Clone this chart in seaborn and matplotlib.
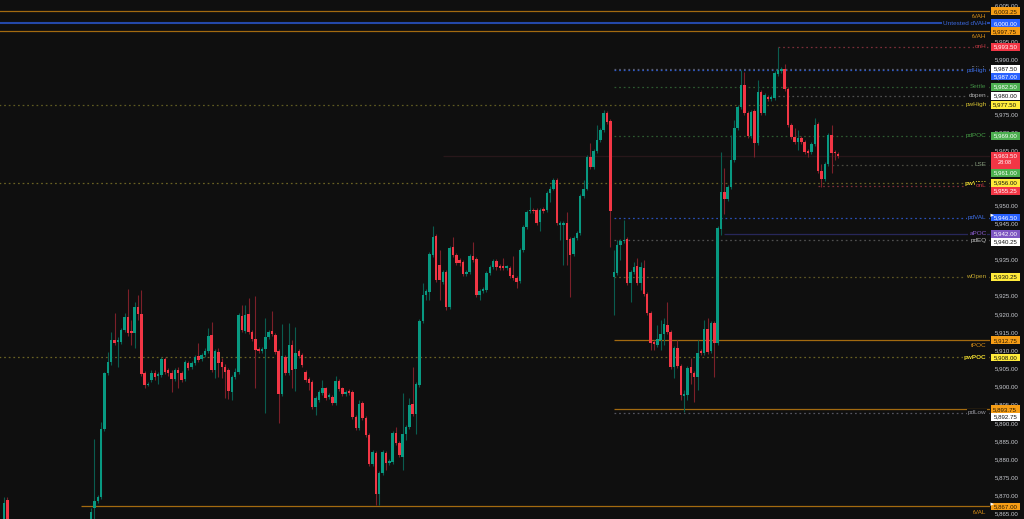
import numpy as np
import pandas as pd
import matplotlib
matplotlib.use("Agg")
import matplotlib.pyplot as plt
from matplotlib.patches import Rectangle, Polygon
import seaborn as sns

nan = np.nan

# ---------------- candle data ----------------
# first two visible candles at the far left
open_a = [5862.0, 5868.75]
high_a = [5869.5, 5869.5]
low_a = [5858.0, 5859.25]
close_a = [5868.0, 5860.5]

# candles that trade below the visible price range (not readable)
hidden_count = 24

open_b = [5862.25, 5866.5, 5868.5, 5869.5, 5888.25, 5903.75, 5906.75, 5912.75, 5912.25, 5912.25,
          5915.5, 5919.25, 5915.25, 5914.75, 5922.0, 5920.0, 5903.75, 5900.5, 5901.75, 5903.75,
          5903.0, 5903.25, 5907.5, 5904.5, 5903.75, 5902.0, 5904.5, 5903.75, 5902.0, 5906.5,
          5905.25, 5906.5, 5908.5, 5907.5, 5908.75, 5909.75]
high_b = [5866.5, 5885.5, 5870.25, 5890.25, 5904.0, 5909.5, 5915.0, 5920.25, 5913.5, 5916.0,
          5920.25, 5926.75, 5918.25, 5923.25, 5925.25, 5926.5, 5904.25, 5901.25, 5904.5, 5904.5,
          5904.0, 5908.0, 5908.0, 5905.0, 5904.5, 5905.0, 5905.5, 5904.25, 5907.25, 5907.0,
          5907.0, 5908.75, 5912.0, 5909.25, 5910.5, 5916.0]
low_b = [5861.0, 5863.5, 5868.0, 5869.0, 5887.75, 5903.25, 5906.0, 5911.5, 5905.5, 5911.75,
         5915.0, 5914.0, 5911.5, 5910.5, 5918.25, 5903.0, 5899.5, 5900.25, 5901.25, 5901.75,
         5900.75, 5902.75, 5903.5, 5903.0, 5898.5, 5901.5, 5899.5, 5901.25, 5901.5, 5904.5,
         5904.75, 5906.0, 5906.75, 5907.0, 5908.0, 5909.25]
close_b = [5865.5, 5868.5, 5869.5, 5888.25, 5903.75, 5906.75, 5912.75, 5912.0, 5912.75, 5915.5,
           5919.25, 5914.75, 5914.75, 5922.0, 5920.0, 5903.5, 5900.5, 5900.75, 5903.75, 5902.75,
           5903.5, 5907.5, 5904.0, 5903.75, 5902.0, 5904.5, 5903.75, 5901.75, 5906.75, 5905.0,
           5906.5, 5908.0, 5907.25, 5908.75, 5909.75, 5914.0]

open_c = [5914.25, 5904.5, 5909.5, 5906.75, 5905.25, 5904.5, 5898.5, 5902.75, 5904.0, 5919.5,
          5915.25, 5920.0, 5915.0, 5913.0, 5910.25, 5909.75, 5910.25, 5913.5, 5915.25, 5914.25,
          5909.75, 5898.0, 5908.0, 5903.75, 5911.5, 5904.75, 5909.75, 5908.75, 5904.0, 5902.0,
          5901.25, 5894.25, 5896.25, 5898.25, 5899.5, 5897.0, 5897.0, 5895.5, 5901.5, 5899.5,
          5898.0, 5898.75, 5898.5, 5891.5, 5888.5, 5895.5, 5891.25, 5886.75, 5878.75, 5881.75,
          5870.5, 5876.25, 5881.75, 5879.0, 5879.25, 5887.25, 5884.5, 5880.75, 5887.0, 5889.0,
          5895.25, 5892.5, 5900.5]
high_c = [5917.75, 5910.25, 5910.5, 5907.75, 5906.25, 5905.0, 5903.25, 5905.0, 5920.25, 5922.5,
          5922.5, 5924.25, 5915.5, 5925.0, 5910.75, 5910.75, 5918.75, 5915.5, 5920.75, 5914.75,
          5910.25, 5917.25, 5908.75, 5917.5, 5912.75, 5916.5, 5910.25, 5909.25, 5904.5, 5902.75,
          5901.75, 5897.5, 5899.0, 5901.75, 5900.0, 5898.25, 5897.75, 5903.0, 5902.0, 5900.0,
          5899.0, 5899.25, 5899.0, 5892.25, 5896.25, 5896.0, 5892.0, 5887.25, 5882.5, 5882.25,
          5876.75, 5882.5, 5882.25, 5880.0, 5887.75, 5889.0, 5885.0, 5898.25, 5889.5, 5896.75,
          5905.5, 5901.25, 5918.5]
low_c = [5904.0, 5902.25, 5902.75, 5902.25, 5896.75, 5896.5, 5896.25, 5902.0, 5903.5, 5915.0,
         5914.75, 5914.5, 5912.5, 5899.5, 5909.25, 5909.25, 5892.75, 5913.0, 5914.0, 5909.0,
         5890.0, 5897.5, 5903.25, 5903.25, 5899.5, 5898.75, 5907.75, 5905.5, 5901.25, 5899.0,
         5893.75, 5892.25, 5895.75, 5897.75, 5896.25, 5896.5, 5895.0, 5895.0, 5898.75, 5897.5,
         5897.5, 5897.75, 5891.0, 5888.0, 5888.0, 5890.75, 5886.0, 5878.25, 5878.25, 5867.5,
         5867.5, 5875.75, 5877.0, 5878.5, 5878.75, 5884.0, 5880.75, 5877.0, 5885.25, 5888.25,
         5892.0, 5887.0, 5900.0]
close_c = [5904.5, 5909.75, 5906.5, 5905.25, 5904.0, 5898.75, 5902.75, 5904.0, 5919.75, 5915.5,
           5919.75, 5915.0, 5913.0, 5910.0, 5909.75, 5910.25, 5913.5, 5915.0, 5914.5, 5909.5,
           5898.0, 5908.5, 5903.75, 5911.5, 5904.5, 5909.25, 5908.5, 5906.0, 5901.75, 5901.0,
           5894.25, 5896.75, 5898.5, 5899.5, 5896.75, 5897.75, 5895.5, 5901.5, 5899.25, 5898.0,
           5898.5, 5898.25, 5891.5, 5888.5, 5895.25, 5891.25, 5886.75, 5878.75, 5882.0, 5870.5,
           5876.25, 5882.0, 5879.0, 5879.5, 5887.25, 5884.5, 5881.25, 5887.0, 5889.0, 5895.0,
           5892.5, 5900.75, 5918.0]

open_d = [5918.0, 5925.25, 5926.0, 5936.25, 5941.5, 5933.5, 5928.75, 5931.5, 5922.0, 5938.5,
          5936.25, 5934.75, 5934.25, 5931.0, 5931.5, 5936.0, 5935.0, 5925.25, 5926.25, 5926.5,
          5931.25, 5933.0, 5934.5, 5933.25, 5933.0, 5932.75, 5932.75, 5930.75, 5930.0, 5929.0,
          5937.5, 5944.0, 5948.25, 5948.5, 5948.5, 5945.25, 5948.75, 5948.5, 5953.25, 5954.5,
          5956.75, 5944.5, 5944.5, 5945.0, 5940.5, 5936.5, 5941.0, 5942.25, 5952.5, 5954.5,
          5963.25, 5960.5, 5964.75, 5967.75, 5970.5, 5975.25, 5973.0]
high_d = [5928.5, 5926.75, 5937.0, 5944.25, 5942.0, 5937.5, 5932.0, 5932.0, 5938.75, 5941.25,
          5936.75, 5935.5, 5934.75, 5932.0, 5936.5, 5939.75, 5935.75, 5926.75, 5927.5, 5931.75,
          5933.5, 5935.0, 5935.0, 5933.75, 5935.5, 5933.5, 5933.25, 5936.0, 5930.5, 5938.0,
          5944.5, 5948.5, 5952.25, 5949.25, 5949.25, 5949.25, 5949.5, 5953.75, 5955.25, 5957.5,
          5957.5, 5945.5, 5945.5, 5948.0, 5941.25, 5941.5, 5942.75, 5953.0, 5956.75, 5963.75,
          5967.0, 5965.5, 5972.0, 5971.25, 5976.0, 5975.75, 5973.75]
low_d = [5917.5, 5923.75, 5923.75, 5935.75, 5928.75, 5923.75, 5928.25, 5921.0, 5921.25, 5935.75,
         5933.5, 5933.25, 5930.5, 5930.5, 5931.0, 5934.25, 5924.75, 5923.75, 5925.75, 5926.0,
         5930.75, 5932.25, 5932.0, 5932.0, 5932.0, 5932.0, 5930.0, 5929.25, 5927.0, 5928.5,
         5937.0, 5943.25, 5947.75, 5947.75, 5944.5, 5942.75, 5947.75, 5948.0, 5950.75, 5954.0,
         5944.5, 5940.25, 5933.5, 5933.5, 5924.75, 5936.0, 5940.25, 5941.75, 5952.0, 5954.0,
         5960.0, 5960.0, 5964.25, 5967.25, 5970.0, 5972.25, 5938.5]
close_d = [5925.25, 5926.25, 5936.5, 5941.25, 5929.25, 5929.25, 5931.5, 5922.0, 5938.0, 5936.25,
           5934.0, 5934.0, 5931.0, 5931.5, 5936.0, 5934.75, 5925.25, 5926.25, 5926.75, 5931.25,
           5933.0, 5934.5, 5933.0, 5932.75, 5932.75, 5933.0, 5930.5, 5930.0, 5928.75, 5937.5,
           5944.0, 5948.0, 5948.5, 5948.25, 5945.0, 5948.5, 5948.25, 5953.25, 5954.5, 5956.75,
           5945.0, 5945.0, 5945.0, 5940.25, 5936.25, 5941.0, 5942.25, 5952.5, 5954.5, 5963.25,
           5960.5, 5964.75, 5967.75, 5970.5, 5975.25, 5972.75, 5948.25]

open_e = [5930.25, 5931.25, 5939.0, 5940.0, 5940.5, 5928.5, 5931.5, 5933.25, 5928.5, 5932.75,
          5925.5, 5920.25, 5912.25, 5911.5, 5912.75, 5914.5, 5917.0, 5915.0, 5905.5, 5910.5,
          5905.75, 5897.5, 5897.75, 5905.5, 5903.75, 5902.75, 5909.75, 5909.25, 5915.75, 5909.75,
          5917.5, 5912.0]
high_e = [5937.5, 5940.25, 5940.5, 5945.75, 5941.25, 5932.0, 5934.25, 5935.5, 5934.25, 5934.75,
          5926.0, 5920.75, 5912.75, 5917.0, 5918.25, 5918.75, 5923.25, 5915.5, 5911.25, 5912.75,
          5906.25, 5899.0, 5905.75, 5907.75, 5904.25, 5912.75, 5910.25, 5918.25, 5918.75, 5918.0,
          5918.0, 5944.25]
low_e = [5919.75, 5930.75, 5934.75, 5939.5, 5928.0, 5923.25, 5931.0, 5928.0, 5926.5, 5925.0,
         5919.75, 5910.0, 5910.0, 5911.0, 5910.0, 5911.5, 5914.5, 5904.75, 5902.25, 5905.0,
         5896.25, 5893.0, 5896.25, 5900.75, 5895.75, 5899.0, 5908.75, 5908.75, 5909.0, 5909.25,
         5902.75, 5911.5]
close_e = [5931.5, 5939.0, 5940.0, 5940.25, 5928.5, 5931.5, 5933.0, 5928.5, 5933.0, 5925.5,
           5920.25, 5912.0, 5911.75, 5913.0, 5914.5, 5917.25, 5915.0, 5905.5, 5910.5, 5905.75,
           5897.75, 5898.0, 5905.0, 5903.75, 5902.75, 5909.25, 5909.25, 5915.75, 5909.5, 5917.5,
           5912.0, 5943.5]

open_f = [5943.25, 5953.5, 5951.5, 5955.0, 5962.25, 5971.25, 5977.0, 5983.0, 5975.25, 5969.0,
          5975.75, 5967.0, 5981.0, 5975.25, 5979.75, 5979.25, 5979.5, 5986.0, 5986.75, 5987.5,
          5982.0, 5972.0, 5968.75, 5967.25, 5968.5, 5967.25, 5964.75, 5964.5, 5966.75, 5972.25,
          5959.25, 5957.0, 5961.25, 5969.25, 5964.5, 5964.0]
high_f = [5964.5, 5960.25, 5955.5, 5969.25, 5973.25, 5977.5, 5987.0, 5986.5, 5975.75, 5976.0,
          5976.25, 5984.25, 5981.5, 5980.75, 5980.25, 5980.25, 5986.75, 5993.5, 5988.0, 5988.75,
          5982.5, 5972.5, 5971.25, 5970.5, 5969.0, 5967.75, 5965.5, 5967.25, 5974.0, 5972.75,
          5961.25, 5961.75, 5969.75, 5972.0, 5965.0, 5964.5]
low_f = [5941.75, 5947.5, 5951.0, 5954.25, 5961.75, 5970.5, 5976.5, 5974.75, 5968.5, 5968.5,
         5963.25, 5966.5, 5974.75, 5974.75, 5978.5, 5978.5, 5978.75, 5985.5, 5986.25, 5981.25,
         5971.5, 5968.25, 5966.75, 5965.0, 5966.75, 5964.0, 5963.25, 5964.0, 5966.25, 5958.75,
         5955.0, 5956.5, 5960.75, 5958.75, 5962.25, 5963.0]
close_f = [5953.5, 5951.5, 5955.0, 5962.25, 5971.25, 5977.0, 5983.0, 5975.25, 5969.0, 5975.5,
           5967.0, 5981.0, 5975.25, 5980.25, 5979.25, 5979.75, 5986.25, 5987.0, 5987.5, 5982.0,
           5972.0, 5968.75, 5967.25, 5968.5, 5967.25, 5964.5, 5964.25, 5966.75, 5972.0, 5959.25,
           5957.0, 5961.25, 5969.25, 5964.25, 5964.25, 5963.5]

# ---------------- horizontal levels ----------------
level_names = ['tVAH', 'Untested dVAH', 'tVAH', 'onH', 'pdHigh', 'pdHigh', 'Settle', 'dopen',
               'pwHigh', 'pdPOC', '', 'LSE', 'pwVAH', 'onL', 'pdVAL', 'aPOC', 'pdEQ', 'wOpen',
               'tPOC', 'pwPOC', 'tVAL', 'pdLow', 'tVAL']
level_prices = [6003.25, 6000.00, 5997.75, 5993.50, 5987.50, 5987.00, 5982.50, 5980.00,
                5977.50, 5969.00, 5963.50, 5961.00, 5956.00, 5955.25, 5946.50, 5942.00, 5940.25,
                5930.25, 5912.75, 5908.00, 5893.75, 5892.75, 5867.00]
# candle index where each level line begins
level_starts = [-2, -2, -2, 231, 182, 182, 182, 231, -2, 182, 131, 247, -2, 243, 182, 215,
                182, 182, 182, -2, 182, 182, 23]
level_kinds = ['t', 'dva', 't', 'on', 'pdh_w', 'pdh_b', 'settle', 'dopen', 'pw', 'pdpoc', 'cur',
               'lse', 'pwb', 'on', 'pdval', 'apoc', 'pdeq', 'wopen', 't', 'pwb', 't', 'pdlow', 't']
alert_prices = [5946.50, 5867.00]
countdown = '28:08'

# ---------------- style ----------------
BG = '#0f0f0f'
UP, DOWN = '#089981', '#f23645'
UP_W, DOWN_W = '#0a5c4f', '#7c2029'
DOT = (0, (1.4, 2.3))
styles = {
    # line color, linestyle, lw, label color, weight, label below, box face, box text
    't':      ('#a36a10', '-', 0.9, '#d88d16', 'normal', True, '#f59d16', '#2a1a00'),
    'dva':    ('#2448a8', '-', 1.5, '#3a68e0', 'normal', False, '#2962ff', 'white'),
    'on':     ('#7a2e38', DOT, 0.9, '#c83a46', 'normal', False, '#f23645', 'white'),
    'pdh_w':  ('#5c5c68', DOT, 0.9, '#9a9aa2', 'normal', False, '#ffffff', '#111111'),
    'pdh_b':  ('#2f58c0', DOT, 0.9, '#3d6ee6', 'normal', False, '#2962ff', 'white'),
    'settle': ('#2e5a30', DOT, 0.9, '#3f8a42', 'normal', False, '#4caf50', 'white'),
    'dopen':  ('#505050', DOT, 0.9, '#b4b4b4', 'normal', False, '#ffffff', '#111111'),
    'pw':     ('#5e5a22', DOT, 0.9, '#d6c232', 'normal', False, '#ffeb3b', '#111111'),
    'pdpoc':  ('#2e5a30', DOT, 0.9, '#46a046', 'normal', False, '#4caf50', 'white'),
    'cur':    ('#28171a', '-', 0.9, '#f23645', 'normal', False, '#f23645', 'white'),
    'lse':    ('#4a4a40', DOT, 0.9, '#8aa080', 'normal', False, '#4caf50', 'white'),
    'pwb':    ('#6a6224', DOT, 0.9, '#f0dc30', 'bold', False, '#ffeb3b', '#111111'),
    'pdval':  ('#2a50b8', DOT, 0.9, '#3d6ee6', 'normal', False, '#2962ff', 'white'),
    'apoc':   ('#27275a', '-', 0.9, '#8a5cd0', 'normal', False, '#7e57c2', 'white'),
    'pdeq':   ('#505050', DOT, 0.9, '#c0c0c0', 'normal', False, '#ffffff', '#111111'),
    'wopen':  ('#5e5624', DOT, 0.9, '#c8aa30', 'normal', False, '#ffeb3b', '#111111'),
    'pdlow':  ('#55555f', DOT, 0.9, '#9a9aa2', 'normal', False, '#ffffff', '#111111'),
}

sns.set_theme(style='dark', rc={'axes.facecolor': BG, 'figure.facecolor': BG,
                                'axes.grid': False, 'savefig.facecolor': BG})
plt.rcParams['font.family'] = ['Liberation Sans', 'DejaVu Sans']

opens = open_a + [nan] * hidden_count + open_b + open_c + open_d + open_e + open_f
highs = high_a + [nan] * hidden_count + high_b + high_c + high_d + high_e + high_f
lows = low_a + [nan] * hidden_count + low_b + low_c + low_d + low_e + low_f
closes = close_a + [nan] * hidden_count + close_b + close_c + close_d + close_e + close_f

df = pd.DataFrame({'open': opens, 'high': highs, 'low': lows, 'close': closes})
df['i'] = np.arange(len(df))
df = df.dropna()
up = (df['close'] >= df['open']).values

W, H = 1024, 519
fig = plt.figure(figsize=(W / 100, H / 100), dpi=100)
ax = fig.add_axes([0, 0, 990 / W, 1])
ax.set_facecolor(BG)
XMIN, XMAX = -1.19, 294.3
ax.set_xlim(XMIN, XMAX)
ax.set_ylim(5863.55, 6006.38)

# level lines
for name, price, start, kind in zip(level_names, level_prices, level_starts, level_kinds):
    lc, ls, lw = styles[kind][:3]
    ax.plot([start, XMAX + 5], [price, price], color=lc, linestyle=ls, lw=lw, zorder=1,
            solid_capstyle='butt')

# candles
ax.vlines(df['i'], df['low'], df['high'], colors=np.where(up, UP_W, DOWN_W), lw=0.8, zorder=2)
body_bottom = np.minimum(df['open'], df['close'])
body_height = np.maximum((df['close'] - df['open']).abs(), 0.3)
ax.bar(df['i'], body_height, bottom=body_bottom, width=0.74,
       color=np.where(up, UP, DOWN), linewidth=0, zorder=3)

# right price axis
ticks = np.arange(5865, 6006, 5)
ax.yaxis.tick_right()
ax.set_yticks(ticks)
ax.set_yticklabels([f'{t:,.2f}' for t in ticks])
ax.tick_params(axis='y', length=0, pad=3.6, labelsize=4.4, labelcolor='#c8cad0')
ax.set_xticks([])
sns.despine(ax=ax, left=True, right=True, top=True, bottom=True)

# overlay in pixel coordinates for labels and price boxes
ov = fig.add_axes([0, 0, 1, 1])
ov.set_xlim(0, W)
ov.set_ylim(H, 0)
ov.axis('off')
ov.patch.set_alpha(0)


def to_px(price):
    return H - ax.transData.transform((0, price))[1]


order = np.argsort(-np.array(level_prices))
prev_bottom = -100
for k in order:
    name, price, kind = level_names[k], level_prices[k], level_kinds[k]
    lc, ls, lw, tc, wt, below, bf, bt = styles[kind]
    yc = to_px(price)
    # text label left of the box
    if name:
        if below:
            ov.text(986.5, yc + 5.6, name, ha='right', va='center', fontsize=4.6, color=tc,
                    fontweight=wt)
        else:
            ov.text(986.5, yc, name, ha='right', va='center', fontsize=4.6, color=tc,
                    fontweight=wt,
                    bbox=dict(boxstyle='square,pad=0.15', fc=BG, ec='none'))
    # price box
    h = 17.0 if kind == 'cur' else 7.8
    top = max(yc - 3.9, prev_bottom)
    prev_bottom = top + h
    ov.add_patch(Rectangle((990.5, top), 29.5, h, fc=bf, ec='none', zorder=5))
    ov.text(1005.3, top + 4.0, f'{price:,.2f}', ha='center', va='center', fontsize=4.4,
            color=bt, zorder=6)
    if kind == 'cur':
        ov.text(1005.3, top + 10.6, countdown, ha='center', va='center', fontsize=4.1,
                color=bt, zorder=6)
    if price in alert_prices:
        ov.add_patch(Polygon([(990.5, top), (994.0, top + 1.6), (990.5, top + 3.2)],
                             closed=True, fc='white', ec='none', zorder=7))

fig.savefig('out.png', dpi=100, facecolor=BG)
